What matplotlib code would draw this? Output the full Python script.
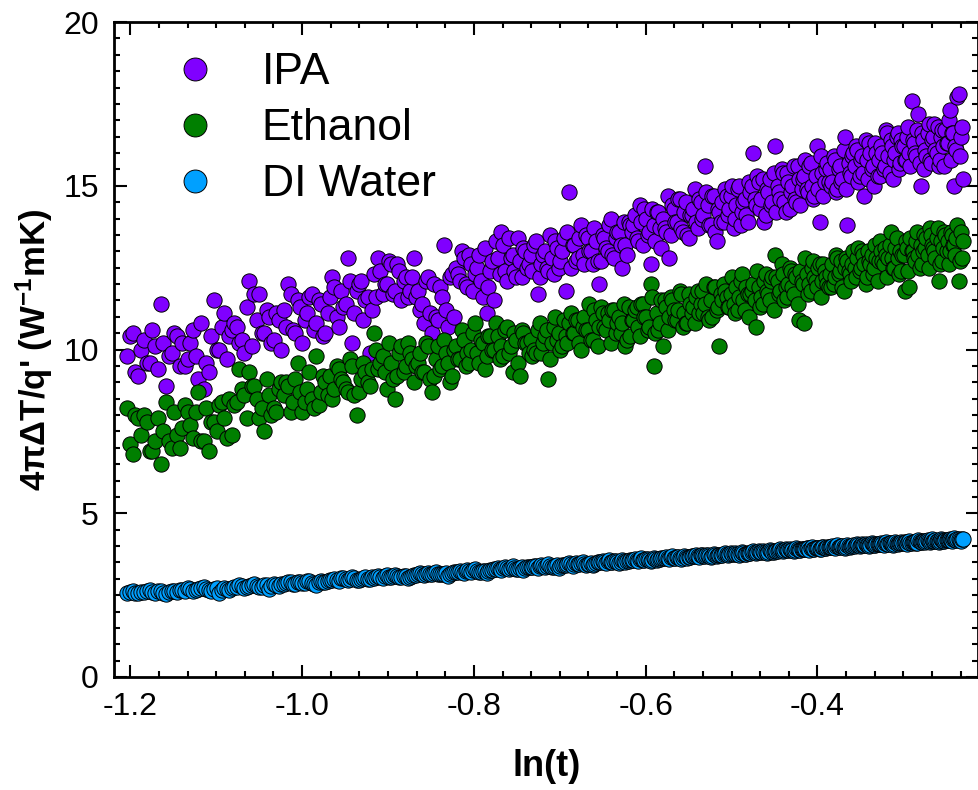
import numpy as np
import matplotlib
matplotlib.use("Agg")
from matplotlib import pyplot as plt
from matplotlib.ticker import MultipleLocator

plt.rcParams["font.family"] = ["Liberation Sans", "DejaVu Sans"]
plt.rcParams["axes.unicode_minus"] = False
plt.rcParams["mathtext.fontset"] = "custom"
plt.rcParams["mathtext.rm"] = "Liberation Sans:bold"
plt.rcParams["mathtext.default"] = "rm"

# sampling times (ms), x axis is ln(t) with t in s
time_ms = [300, 301, 302, 303, 304, 305, 306, 307, 308, 309, 310, 311, 312, 313, 314, 315, 316, 317, 318, 319,
           320, 321, 322, 323, 324, 325, 326, 327, 328, 329, 330, 331, 332, 333, 334, 335, 336, 337, 338, 339,
           340, 341, 342, 343, 344, 345, 346, 347, 348, 349, 350, 351, 352, 353, 354, 355, 356, 357, 358, 359,
           360, 361, 362, 363, 364, 365, 366, 367, 368, 369, 370, 371, 372, 373, 374, 375, 376, 377, 378, 379,
           380, 381, 382, 383, 384, 385, 386, 387, 388, 389, 390, 391, 392, 393, 394, 395, 396, 397, 398, 399,
           400, 401, 402, 403, 404, 405, 406, 407, 408, 409, 410, 411, 412, 413, 414, 415, 416, 417, 418, 419,
           420, 421, 422, 423, 424, 425, 426, 427, 428, 429, 430, 431, 432, 433, 434, 435, 436, 437, 438, 439,
           440, 441, 442, 443, 444, 445, 446, 447, 448, 449, 450, 451, 452, 453, 454, 455, 456, 457, 458, 459,
           460, 461, 462, 463, 464, 465, 466, 467, 468, 469, 470, 471, 472, 473, 474, 475, 476, 477, 478, 479,
           480, 481, 482, 483, 484, 485, 486, 487, 488, 489, 490, 491, 492, 493, 494, 495, 496, 497, 498, 499,
           500, 501, 502, 503, 504, 505, 506, 507, 508, 509, 510, 511, 512, 513, 514, 515, 516, 517, 518, 519,
           520, 521, 522, 523, 524, 525, 526, 527, 528, 529, 530, 531, 532, 533, 534, 535, 536, 537, 538, 539,
           540, 541, 542, 543, 544, 545, 546, 547, 548, 549, 550, 551, 552, 553, 554, 555, 556, 557, 558, 559,
           560, 561, 562, 563, 564, 565, 566, 567, 568, 569, 570, 571, 572, 573, 574, 575, 576, 577, 578, 579,
           580, 581, 582, 583, 584, 585, 586, 587, 588, 589, 590, 591, 592, 593, 594, 595, 596, 597, 598, 599,
           600, 601, 602, 603, 604, 605, 606, 607, 608, 609, 610, 611, 612, 613, 614, 615, 616, 617, 618, 619,
           620, 621, 622, 623, 624, 625, 626, 627, 628, 629, 630, 631, 632, 633, 634, 635, 636, 637, 638, 639,
           640, 641, 642, 643, 644, 645, 646, 647, 648, 649, 650, 651, 652, 653, 654, 655, 656, 657, 658, 659,
           660, 661, 662, 663, 664, 665, 666, 667, 668, 669, 670, 671, 672, 673, 674, 675, 676, 677, 678, 679,
           680, 681, 682, 683, 684, 685, 686, 687, 688, 689, 690, 691, 692, 693, 694, 695, 696, 697, 698, 699,
           700, 701, 702, 703, 704, 705, 706, 707, 708, 709, 710, 711, 712, 713, 714, 715, 716, 717, 718, 719,
           720, 721, 722, 723, 724, 725, 726, 727, 728, 729, 730, 731, 732, 733, 734, 735, 736, 737, 738, 739,
           740, 741, 742, 743, 744, 745, 746, 747, 748, 749, 750, 751, 752, 753, 754, 755, 756, 757, 758, 759,
           760, 761, 762, 763, 764, 765, 766, 767, 768, 769, 770, 771, 772, 773, 774, 775, 776, 777, 778, 779,
           780, 781, 782, 783, 784, 785, 786, 787, 788, 789, 790, 791, 792, 793, 794]

ipa = [9.8, 10.4, 10.5, 9.3, 9.2, 10.0, 10.3, 9.6, 9.6, 10.6, 10.1, 9.4, 11.4, 10.2, 8.9, 9.8, 9.9, 10.5, 10.4, 9.5,
       10.2, 9.5, 9.7, 10.2, 10.6, 9.8, 9.1, 10.8, 8.8, 9.6, 9.3, 10.4, 11.5, 10.0, 10.0, 10.7, 11.1, 9.7, 10.4, 10.6,
       10.8, 10.7, 10.2, 10.3, 9.9, 11.3, 12.1, 10.1, 11.7, 10.9, 11.7, 10.5, 10.5, 11.2, 11.0, 10.2, 10.3, 11.1, 10.9, 10.0,
       11.2, 10.7, 12.0, 11.7, 10.6, 10.5, 11.5, 11.3, 10.2, 10.9, 11.1, 11.6, 11.7, 10.6, 10.8, 11.5, 11.4, 10.4, 10.5, 11.1,
       11.6, 12.2, 11.9, 11.0, 10.7, 11.8, 11.3, 11.4, 12.8, 12.1, 10.2, 11.1, 11.8, 12.0, 12.1, 10.9, 11.5, 11.6, 9.9, 11.2,
       12.3, 11.6, 12.8, 12.4, 11.7, 12.0, 12.0, 12.7, 12.6, 11.7, 11.8, 12.6, 12.4, 11.5, 12.1, 12.2, 11.6, 11.8, 12.2, 12.8,
       11.6, 11.8, 11.2, 11.4, 10.8, 12.1, 12.2, 11.1, 10.5, 12.0, 11.0, 10.9, 11.9, 11.6, 13.2, 11.2, 10.7, 12.2, 12.3, 11.0,
       12.5, 12.3, 12.1, 13.0, 12.8, 12.0, 11.9, 12.9, 12.6, 11.8, 12.3, 12.5, 12.9, 12.1, 11.6, 13.1, 11.1, 11.9, 12.4, 12.7,
       11.5, 13.3, 12.8, 12.3, 13.6, 13.2, 12.4, 12.1, 13.4, 12.8, 12.9, 12.4, 12.2, 13.4, 12.7, 12.2, 13.1, 13.0, 12.5, 12.6,
       12.9, 12.4, 13.2, 13.3, 11.7, 12.2, 12.6, 12.9, 13.0, 12.5, 12.4, 13.5, 12.8, 12.3, 13.3, 13.1, 12.5, 12.7, 13.0, 13.4,
       11.8, 13.6, 14.8, 12.5, 13.2, 13.2, 12.7, 12.8, 13.4, 13.8, 12.9, 12.6, 13.5, 13.4, 13.0, 13.0, 12.6, 13.7, 13.3, 12.7,
       12.0, 12.7, 13.5, 13.4, 13.1, 13.0, 13.8, 14.0, 12.9, 12.8, 13.4, 13.6, 13.6, 13.2, 12.5, 13.9, 13.2, 12.9, 13.9, 13.8,
       13.6, 13.8, 14.1, 13.4, 13.3, 14.4, 13.9, 13.2, 14.3, 14.0, 13.5, 13.6, 12.6, 14.3, 13.8, 13.3, 14.2, 14.2, 13.7, 13.1,
       14.0, 13.7, 13.6, 14.7, 12.8, 13.5, 14.4, 14.3, 13.9, 13.9, 14.6, 14.6, 13.7, 13.6, 14.2, 14.5, 13.5, 13.4, 14.1, 14.1,
       14.3, 14.9, 13.9, 13.7, 14.6, 14.5, 14.0, 14.1, 15.6, 14.8, 14.4, 13.8, 13.8, 14.7, 14.7, 13.6, 13.3, 14.3, 14.2, 13.9,
       14.5, 13.9, 14.9, 14.7, 14.1, 14.3, 14.7, 15.0, 13.7, 14.0, 14.4, 14.9, 15.0, 13.8, 14.2, 14.5, 14.6, 14.1, 13.9, 15.1,
       14.8, 15.0, 16.0, 14.6, 14.4, 15.3, 15.1, 14.3, 14.6, 15.2, 13.9, 14.1, 14.9, 14.8, 15.2, 14.4, 14.5, 15.4, 16.2, 14.2,
       15.0, 14.8, 14.6, 15.5, 15.4, 14.5, 14.2, 15.4, 15.1, 14.3, 14.8, 15.0, 15.6, 14.6, 14.5, 15.6, 15.2, 14.4, 14.9, 15.2,
       15.3, 15.8, 14.9, 14.8, 15.6, 15.7, 15.0, 14.6, 14.7, 15.3, 16.2, 14.9, 13.9, 15.9, 15.4, 14.7, 15.1, 15.5, 15.7, 15.1,
       15.5, 15.0, 15.1, 15.9, 15.8, 14.8, 14.9, 15.5, 15.6, 15.1, 15.2, 16.1, 16.5, 14.9, 13.8, 15.7, 15.4, 15.3, 15.9, 16.0,
       15.6, 16.2, 16.1, 15.1, 15.3, 15.8, 15.9, 15.4, 14.7, 16.4, 15.8, 15.2, 16.3, 16.0, 15.5, 15.6, 15.0, 16.3, 16.0, 15.3,
       15.8, 15.3, 16.2, 16.0, 15.5, 15.6, 16.7, 16.6, 15.9, 15.4, 16.4, 16.2, 15.2, 15.8, 16.0, 16.5, 16.6, 15.5, 15.7, 16.4,
       16.2, 16.2, 15.8, 15.8, 16.5, 16.8, 16.0, 15.6, 17.6, 16.4, 16.3, 16.0, 15.9, 16.7, 17.2, 15.7, 15.0, 16.6, 16.4, 15.5,
       16.1, 15.9, 16.6, 16.9, 15.8, 15.7, 16.4, 16.5, 16.9, 16.1, 16.0, 16.8, 15.6, 15.8, 16.5, 16.7, 16.2, 15.6, 16.7, 16.3,
       16.3, 17.0, 17.3, 15.8, 16.6, 16.6, 15.0, 16.2, 16.1, 17.7, 17.8, 15.9, 16.5, 16.8, 15.2]

ethanol = [8.2, 7.1, 6.8, 8.0, 7.9, 7.4, 8.0, 7.8, 6.9, 6.9, 7.2, 7.9, 6.5, 7.5, 8.4, 7.2, 7.0, 8.1, 7.4, 7.0,
           7.6, 8.3, 8.1, 7.7, 7.3, 8.1, 8.7, 7.2, 7.2, 8.2, 6.9, 7.8, 7.8, 7.5, 8.3, 8.4, 7.9, 7.3, 8.5, 7.4,
           8.3, 8.4, 9.4, 8.8, 8.6, 7.9, 9.3, 8.9, 8.9, 8.5, 7.9, 8.2, 7.5, 9.1, 8.6, 8.0, 8.2, 8.1, 8.8, 9.0,
           8.6, 9.0, 8.9, 8.1, 8.4, 9.1, 9.6, 8.7, 8.1, 8.4, 8.8, 9.3, 8.5, 8.2, 9.8, 8.3, 8.7, 9.2, 9.0, 8.6,
           9.2, 8.5, 8.8, 9.5, 9.4, 9.1, 9.0, 8.8, 8.7, 9.7, 9.5, 8.6, 8.0, 8.7, 9.1, 9.6, 9.3, 9.0, 8.9, 9.4,
           10.5, 10.0, 9.4, 9.6, 9.8, 9.3, 8.8, 10.2, 9.6, 9.1, 8.5, 9.2, 9.9, 10.1, 9.3, 9.5, 10.2, 9.9, 9.7, 9.0,
           9.5, 9.6, 9.9, 9.3, 9.3, 10.2, 10.1, 9.1, 8.7, 9.2, 9.7, 10.1, 9.4, 9.5, 10.3, 9.9, 9.6, 9.0, 9.2, 10.0,
           10.1, 9.7, 9.7, 10.6, 10.3, 9.5, 9.9, 9.6, 10.0, 10.5, 10.8, 9.9, 9.6, 10.3, 10.2, 9.4, 9.8, 10.4, 10.4, 10.0,
           10.0, 10.8, 10.4, 9.7, 10.1, 9.8, 10.6, 10.7, 9.9, 10.1, 9.3, 10.5, 10.3, 9.6, 9.2, 10.6, 10.5, 10.2, 10.2, 9.9,
           10.3, 9.8, 10.0, 9.9, 10.6, 10.8, 9.9, 10.2, 10.4, 10.6, 9.1, 9.7, 10.2, 10.7, 11.0, 10.3, 10.5, 10.0, 10.1, 10.9,
           10.4, 10.2, 10.8, 11.1, 10.5, 10.5, 10.9, 10.9, 10.2, 10.0, 10.7, 11.0, 10.6, 10.6, 11.4, 10.3, 10.3, 11.2, 10.9, 10.1,
           10.7, 11.3, 11.1, 10.7, 10.6, 11.1, 10.9, 10.2, 11.2, 11.2, 10.5, 10.8, 11.0, 10.5, 10.8, 11.4, 10.1, 10.3, 11.3, 10.4,
           10.9, 10.9, 11.2, 11.3, 10.7, 10.4, 11.4, 11.4, 11.0, 11.0, 10.6, 10.7, 12.0, 11.6, 9.5, 10.5, 11.1, 10.6, 10.8, 11.5,
           10.1, 11.5, 11.3, 10.6, 11.0, 11.6, 11.5, 11.2, 10.9, 10.9, 11.2, 11.8, 11.7, 10.7, 11.1, 10.8, 10.8, 11.7, 11.4, 11.1,
           11.3, 10.8, 11.6, 11.8, 11.1, 11.4, 11.8, 11.1, 11.4, 12.0, 11.0, 10.9, 11.5, 11.0, 11.9, 11.9, 11.2, 11.3, 10.1, 11.7,
           11.5, 12.0, 11.8, 11.6, 11.3, 11.3, 11.7, 12.2, 11.4, 11.1, 11.9, 11.2, 11.6, 12.1, 12.3, 11.5, 11.2, 11.9, 11.7, 11.0,
           11.7, 11.8, 12.0, 11.5, 10.7, 12.4, 11.9, 11.3, 11.6, 11.4, 12.1, 12.3, 11.8, 11.7, 11.5, 12.1, 12.2, 11.2, 12.9, 12.2,
           12.1, 11.7, 11.8, 12.6, 12.3, 11.5, 11.9, 11.6, 12.0, 12.5, 12.4, 11.9, 11.7, 12.3, 12.2, 11.4, 10.9, 12.4, 12.1, 12.0,
           10.8, 12.8, 12.3, 11.7, 12.0, 11.8, 12.5, 12.7, 12.2, 12.1, 11.9, 12.5, 12.6, 11.6, 12.1, 12.6, 12.4, 12.2, 12.0, 11.9,
           12.3, 11.9, 12.6, 12.0, 12.2, 12.9, 12.8, 12.3, 12.4, 12.7, 11.9, 11.8, 12.5, 12.8, 12.7, 12.4, 12.3, 12.1, 12.6, 13.0,
           12.5, 12.2, 12.8, 13.1, 12.4, 12.5, 13.0, 12.9, 12.6, 12.0, 12.2, 13.0, 12.7, 12.6, 12.9, 12.3, 12.5, 13.2, 12.8, 12.1,
           12.7, 13.3, 13.0, 12.7, 12.6, 13.1, 12.9, 12.2, 12.8, 13.2, 13.6, 12.8, 12.5, 12.5, 13.1, 13.4, 12.8, 12.3, 13.0, 12.4,
           12.9, 12.9, 11.8, 13.3, 13.1, 12.4, 11.9, 13.4, 13.0, 13.0, 12.8, 12.7, 13.3, 13.6, 12.9, 12.5, 13.2, 12.6, 13.0, 13.5,
           13.1, 13.4, 12.9, 12.5, 13.7, 13.5, 13.2, 13.1, 13.0, 12.8, 13.4, 13.7, 12.1, 12.6, 13.3, 12.7, 13.1, 13.6, 13.5, 13.0,
           13.3, 12.6, 13.0, 13.6, 13.5, 13.2, 13.2, 12.9, 13.4, 13.8, 12.1, 12.7, 13.6, 12.8, 13.3]

di_water = [2.58, 2.61, 2.63, 2.57, 2.55, 2.60, 2.61, 2.64, 2.66, 2.59, 2.57, 2.62, 2.62, 2.56, 2.53, 2.60, 2.64, 2.63, 2.59, 2.65,
            2.66, 2.64, 2.71, 2.69, 2.62, 2.66, 2.69, 2.72, 2.74, 2.68, 2.65, 2.63, 2.70, 2.71, 2.58, 2.67, 2.72, 2.70, 2.67, 2.73,
            2.75, 2.76, 2.80, 2.79, 2.72, 2.74, 2.79, 2.81, 2.84, 2.78, 2.76, 2.75, 2.81, 2.82, 2.70, 2.77, 2.83, 2.80, 2.77, 2.83,
            2.85, 2.86, 2.90, 2.89, 2.83, 2.84, 2.91, 2.90, 2.86, 2.88, 2.94, 2.92, 2.87, 2.85, 2.82, 2.89, 2.92, 2.91, 2.89, 2.93,
            2.95, 2.97, 3.00, 2.96, 2.93, 3.01, 3.02, 2.98, 2.97, 3.00, 3.04, 3.03, 2.96, 2.97, 2.99, 3.02, 3.05, 3.00, 2.98, 3.04,
            3.03, 3.05, 3.08, 3.04, 3.01, 3.07, 3.10, 3.06, 3.05, 3.09, 3.12, 3.07, 3.04, 3.05, 3.07, 3.08, 3.02, 3.06, 3.09, 3.11,
            3.12, 3.14, 3.17, 3.13, 3.10, 3.16, 3.18, 3.15, 3.14, 3.17, 3.21, 3.15, 3.13, 3.14, 3.16, 3.18, 3.09, 3.16, 3.19, 3.20,
            3.20, 3.22, 3.25, 3.21, 3.18, 3.24, 3.27, 3.23, 3.22, 3.26, 3.29, 3.24, 3.21, 3.22, 3.24, 3.25, 3.19, 3.23, 3.26, 3.28,
            3.29, 3.30, 3.34, 3.31, 3.27, 3.33, 3.36, 3.32, 3.31, 3.34, 3.38, 3.33, 3.30, 3.31, 3.33, 3.35, 3.28, 3.32, 3.35, 3.37,
            3.36, 3.37, 3.40, 3.38, 3.34, 3.39, 3.42, 3.38, 3.37, 3.40, 3.44, 3.39, 3.35, 3.37, 3.39, 3.41, 3.33, 3.38, 3.41, 3.43,
            3.42, 3.44, 3.47, 3.45, 3.40, 3.46, 3.49, 3.45, 3.44, 3.47, 3.51, 3.46, 3.43, 3.44, 3.46, 3.48, 3.41, 3.45, 3.48, 3.50,
            3.50, 3.51, 3.54, 3.52, 3.47, 3.53, 3.56, 3.51, 3.51, 3.54, 3.53, 3.52, 3.49, 3.51, 3.57, 3.55, 3.52, 3.53, 3.55, 3.56,
            3.56, 3.57, 3.60, 3.58, 3.54, 3.59, 3.62, 3.57, 3.57, 3.60, 3.59, 3.58, 3.55, 3.57, 3.63, 3.61, 3.58, 3.59, 3.61, 3.62,
            3.62, 3.63, 3.66, 3.64, 3.60, 3.65, 3.68, 3.63, 3.63, 3.66, 3.65, 3.64, 3.61, 3.63, 3.69, 3.67, 3.64, 3.65, 3.67, 3.68,
            3.68, 3.69, 3.72, 3.70, 3.66, 3.71, 3.74, 3.69, 3.69, 3.72, 3.71, 3.70, 3.67, 3.69, 3.75, 3.73, 3.70, 3.71, 3.73, 3.74,
            3.74, 3.75, 3.78, 3.76, 3.72, 3.77, 3.80, 3.75, 3.75, 3.78, 3.77, 3.76, 3.73, 3.75, 3.81, 3.79, 3.76, 3.77, 3.79, 3.80,
            3.80, 3.81, 3.84, 3.82, 3.78, 3.83, 3.86, 3.81, 3.81, 3.84, 3.83, 3.82, 3.79, 3.81, 3.87, 3.85, 3.82, 3.83, 3.85, 3.86,
            3.86, 3.87, 3.90, 3.88, 3.84, 3.89, 3.92, 3.87, 3.87, 3.90, 3.89, 3.88, 3.85, 3.87, 3.93, 3.91, 3.88, 3.89, 3.91, 3.92,
            3.91, 3.92, 3.95, 3.93, 3.89, 3.94, 3.97, 3.92, 3.92, 3.95, 3.94, 3.93, 3.90, 3.92, 3.98, 3.96, 3.93, 3.94, 3.96, 3.97,
            3.96, 3.97, 4.00, 3.98, 3.94, 3.99, 4.02, 3.97, 3.97, 4.00, 3.99, 3.98, 3.95, 3.97, 4.03, 4.01, 3.98, 3.99, 4.01, 4.02,
            4.01, 4.02, 4.05, 4.03, 3.99, 4.04, 4.07, 4.02, 4.02, 4.05, 4.04, 4.03, 4.00, 4.02, 4.08, 4.06, 4.03, 4.04, 4.06, 4.07,
            4.05, 4.06, 4.09, 4.07, 4.03, 4.08, 4.11, 4.06, 4.06, 4.09, 4.08, 4.07, 4.04, 4.06, 4.12, 4.10, 4.07, 4.08, 4.10, 4.11,
            4.09, 4.10, 4.13, 4.11, 4.07, 4.12, 4.15, 4.10, 4.10, 4.13, 4.12, 4.11, 4.08, 4.10, 4.17, 4.14, 4.11, 4.12, 4.14, 4.15,
            4.13, 4.14, 4.18, 4.15, 4.11, 4.16, 4.20, 4.14, 4.14, 4.17, 4.16, 4.15, 4.12, 4.14, 4.21, 4.18, 4.15, 4.16, 4.18, 4.19,
            4.17, 4.18, 4.22, 4.19, 4.15, 4.20, 4.23, 4.18, 4.18, 4.21, 4.20, 4.19, 4.16, 4.20, 4.21]

labels = ["IPA", "Ethanol", "DI Water"]
colors = ["#8000ff", "#007f00", "#00a0ff"]

ln_t = np.log(np.array(time_ms) / 1000.0)

fig = plt.figure(figsize=(9.79, 7.9), dpi=100)
ax = fig.add_axes([114 / 979, 1 - 677 / 790, 864.5 / 979, 655 / 790])

for y, lab, c in zip([ipa, ethanol, di_water], labels, colors):
    ax.plot(ln_t, y, "o", ms=11, mfc=c, mec="black", mew=0.7, label=lab)

ax.set_xlim(-1.219, -0.2125)
ax.set_ylim(0, 20)
ax.xaxis.set_major_locator(MultipleLocator(0.2))
ax.xaxis.set_minor_locator(MultipleLocator(0.2 / 6))
ax.yaxis.set_major_locator(MultipleLocator(5))
ax.yaxis.set_minor_locator(MultipleLocator(0.5))
ax.tick_params(which="both", direction="in", top=True, right=True, width=1.5)
ax.tick_params(which="major", length=9, labelsize=23, pad=11)
ax.tick_params(which="minor", length=4.5)
for s in ax.spines.values():
    s.set_linewidth(2)

ax.set_xlabel("ln(t)", fontsize=26, fontweight="bold", labelpad=19)
ax.set_ylabel("4πΔT/q' (W$^{-1}$mK)", fontsize=25, fontweight="bold", labelpad=6)

ax.legend(loc="upper left", bbox_to_anchor=(0.068, 0.954), frameon=False,
          fontsize=32, markerscale=1.5, handlelength=1.0, handletextpad=1.0,
          labelspacing=0.34, borderpad=0, borderaxespad=0)

fig.savefig("out.png", dpi=100)
